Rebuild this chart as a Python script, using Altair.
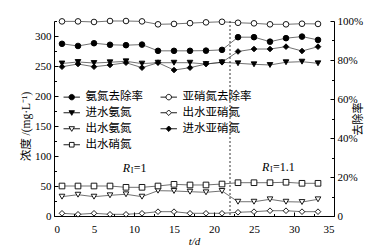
import altair as alt
import pandas as pd

days = [1, 3, 5, 7, 9, 11, 13, 15, 17, 19, 21, 23, 25, 27, 29, 31, 33]

# right axis (%)
nh4_removal = [88.3, 87.2, 88.6, 87.8, 87.6, 87.9, 84.7, 84.7, 84.7, 84.8, 85.2, 91.7, 91.7, 89.4, 91.2, 92.0, 90.3]
no2_removal = [99.8, 99.8, 99.5, 100.0, 100.0, 99.8, 98.3, 98.5, 98.9, 99.3, 99.6, 99.1, 98.8, 98.3, 98.3, 98.6, 98.5]
# left axis (mg/L)
nh4_in = [254.2, 256.7, 255.0, 256.2, 257.8, 254.0, 255.5, 255.5, 255.5, 253.3, 256.2, 254.5, 252.8, 251.7, 256.2, 257.2, 254.5]
nh4_out = [32.2, 35.5, 32.2, 34.5, 36.2, 32.2, 42.2, 41.7, 40.5, 39.5, 41.7, 23.8, 23.8, 27.8, 23.8, 23.3, 27.8]
no3_out = [50.0, 50.0, 50.0, 50.0, 47.8, 47.8, 50.0, 52.8, 51.7, 51.7, 53.3, 55.5, 55.5, 55.5, 56.2, 54.5, 54.5]
no2_out = [4.5, 2.8, 4.5, 2.8, 2.8, 4.5, 7.2, 7.2, 4.5, 4.5, 4.5, 6.2, 7.2, 8.8, 8.8, 7.2, 7.2]
no2_in = [248.8, 253.3, 248.8, 251.7, 255.5, 247.2, 255.5, 243.3, 247.2, 253.3, 256.2, 274.2, 278.3, 278.3, 282.2, 275.0, 282.2]

# legend order (column-major: first column, then second column)
series_names = ["氨氮去除率", "进水氨氮", "出水氨氮", "出水硝氮", "亚硝氮去除率", "出水亚硝氮", "进水亚硝氮"]
series_values = [nh4_removal, nh4_in, nh4_out, no3_out, no2_removal, no2_out, no2_in]
series_axis = ["right", "left", "left", "left", "right", "left", "left"]
marker_shapes = ["circle", "triangle-down", "triangle-down", "square", "circle", "diamond", "diamond"]
marker_fills = ["black", "black", "white", "white", "white", "white", "black"]
CIRC = "M-3,0H-1M1,0H3M-1,0A1,1,0,1,0,1,0A1,1,0,1,0,-1,0Z"
TRI = "M-3,0H-0.56M0.56,0H3M-1,-0.75L1,-0.75L0,0.95Z"
SQ = "M-3,0H-0.85M0.85,0H3M-0.85,-0.85H0.85V0.85H-0.85Z"
DIA = "M-3,0H-1M1,0H3M0,-1L1,0L0,1L-1,0Z"
legend_paths = [CIRC, TRI, TRI, SQ, CIRC, DIA, DIA]

phase_x = [22]
ann_x = [8.6, 26.0]
ann_y = [80, 81]
ann_rest = ["=1", "=1.1"]

rows = []
for name, vals, ax in zip(series_names, series_values, series_axis):
    for d, v in zip(days, vals):
        rows.append({"day": d, "value": v, "series": name, "axis": ax})
df = pd.DataFrame(rows)

FONT = "Liberation Serif, Noto Sans CJK SC"
CJK = "Noto Sans CJK SC"
W, H = 280, 195
LEFT_MAX = 325

x_scale = alt.Scale(domain=[0, 35], nice=False, zero=False)
left_scale = alt.Scale(domain=[0, LEFT_MAX], nice=False, zero=True)
right_scale = alt.Scale(domain=[0, 100], nice=False, zero=True)

common_axis = dict(domainColor="black", tickColor="black", labelColor="black",
                   titleColor="black", grid=False)

x_axis = alt.Axis(
    values=list(range(0, 36, 5)), ticks=False,
    title="t/d", titleFontStyle="italic", titleFont=FONT, titleFontSize=11,
    titleFontWeight="normal", titlePadding=1,
    labelFont=FONT, labelFontSize=11, labelPadding=7, **common_axis,
)
x_enc = alt.X("day:Q", scale=x_scale, axis=x_axis)
x_enc_noaxis = alt.X("day:Q", scale=x_scale, axis=None)

y_left_axis = alt.Axis(
    values=list(range(0, 301, 50)), ticks=False,
    title="浓度 /(mg·L⁻¹)", titleFont=FONT, titleFontSize=11.5, titleFontWeight="normal",
    titlePadding=3, titleY=105, labelFont=FONT, labelFontSize=11, labelPadding=3, **common_axis,
)
y_right_axis = alt.Axis(
    orient="right", values=list(range(0, 101, 20)), ticks=False,
    labelExpr="datum.value === 0 ? '0' : datum.value + '%'",
    title="去除率", titleFont=CJK, titleFontSize=11, titleFontWeight="normal",
    titlePadding=1, titleAngle=270, labelFont=FONT, labelFontSize=11, labelPadding=3,
    **common_axis,
)

shape_sc = alt.Scale(domain=series_names, range=marker_shapes)
fill_sc = alt.Scale(domain=series_names, range=marker_fills)

base = alt.Chart(df)

# ---- left-axis series
left_lines = base.transform_filter("datum.axis === 'left'").mark_line(
    color="#333333", strokeWidth=0.7
).encode(
    x=x_enc, y=alt.Y("value:Q", scale=left_scale, axis=y_left_axis), detail="series:N",
)
left_points = base.transform_filter("datum.axis === 'left'").mark_point(
    stroke="black", strokeWidth=0.9, opacity=1, size=32
).encode(
    x=x_enc, y=alt.Y("value:Q", scale=left_scale, axis=y_left_axis),
    shape=alt.Shape("series:N", scale=shape_sc, legend=None),
    fill=alt.Fill("series:N", scale=fill_sc, legend=None),
)

ann_df = pd.DataFrame({"day": ann_x, "value": ann_y, "rest": ann_rest})
ann_base = alt.Chart(ann_df).encode(
    x=x_enc, y=alt.Y("value:Q", scale=left_scale, axis=y_left_axis)
)
ann_R = ann_base.mark_text(text="R", font=FONT, fontSize=12, fontStyle="italic",
                           align="left", baseline="middle", color="black")
ann_I = ann_base.mark_text(text="I", font=FONT, fontSize=8, dx=8, dy=3,
                           align="left", baseline="middle", color="black")
ann_rest_t = ann_base.mark_text(font=FONT, fontSize=12, dx=11,
                                align="left", baseline="middle", color="black").encode(text="rest:N")

left_layer = alt.layer(left_lines, left_points, ann_R, ann_I, ann_rest_t)

# ---- right-axis series
right_lines = base.transform_filter("datum.axis === 'right'").mark_line(
    color="#333333", strokeWidth=0.7
).encode(
    x=x_enc_noaxis, y=alt.Y("value:Q", scale=right_scale, axis=y_right_axis), detail="series:N",
)
right_points = base.transform_filter("datum.axis === 'right'").mark_point(
    stroke="black", strokeWidth=0.9, opacity=1, size=32
).encode(
    x=x_enc_noaxis, y=alt.Y("value:Q", scale=right_scale, axis=y_right_axis),
    shape=alt.Shape("series:N", scale=shape_sc, legend=None),
    fill=alt.Fill("series:N", scale=fill_sc, legend=None),
)
right_layer = alt.layer(right_lines, right_points)

# ---- phase divider
rule = alt.Chart(pd.DataFrame({"day": phase_x})).mark_rule(
    color="black", strokeWidth=0.8, strokeDash=[2, 2]
).encode(x=x_enc_noaxis)

# ---- inward tick marks (axes placed on the opposite edge, pointing inside)
empty = base.transform_filter("false")
tick_common = dict(labels=False, domain=False, title=None, tickColor="black", grid=False)
ticks_left = empty.mark_point(opacity=0).encode(
    y=alt.Y("value:Q", scale=left_scale, axis=alt.Axis(
        orient="right", offset=-W, values=list(range(0, 326, 25)),
        tickSize={"condition": {"test": "datum.value % 50 === 0", "value": 4}, "value": 2.5},
        **tick_common)),
)
ticks_right = empty.mark_point(opacity=0).encode(
    y=alt.Y("value:Q", scale=right_scale, axis=alt.Axis(
        orient="left", offset=-W, values=list(range(0, 101, 10)),
        tickSize={"condition": {"test": "datum.value % 20 === 0", "value": 4}, "value": 2.5},
        **tick_common)),
)
ticks_x = empty.mark_point(opacity=0).encode(
    x=alt.X("day:Q", scale=x_scale, axis=alt.Axis(
        orient="top", offset=-H, values=[i * 2.5 for i in range(15)],
        tickSize={"condition": {"test": "datum.value % 5 === 0", "value": 4}, "value": 2.5},
        **tick_common)),
)

# ---- legend (symbols drawn as marker with line through it)
leg = alt.Legend(
    title=None, orient="none", legendX=12, legendY=70, columns=2,
    symbolSize=30, symbolStrokeWidth=0.9,
    labelFont=CJK, labelFontSize=11.5, labelColor="black", labelOffset=8,
    rowPadding=3, columnPadding=15, labelLimit=0, symbolOpacity=1,
)
legend_layer = empty.mark_point(stroke="black", strokeWidth=0.9, opacity=1).encode(
    shape=alt.Shape("series:N", scale=alt.Scale(domain=series_names, range=legend_paths), legend=leg),
    fill=alt.Fill("series:N", scale=alt.Scale(domain=series_names, range=marker_fills), legend=leg),
    stroke=alt.Stroke("series:N", scale=alt.Scale(domain=series_names, range=["black"] * 7), legend=leg),
)

chart = alt.layer(
    left_layer, right_layer, rule, ticks_left, ticks_right, ticks_x, legend_layer
).resolve_scale(
    x="independent", y="independent", shape="independent", fill="independent", stroke="independent"
).properties(
    width=W, height=H,
    autosize=alt.AutoSizeParams(type="none"),
    padding={"left": 46, "top": 13, "right": 41, "bottom": 33},
    background="white",
).configure_view(stroke=None)

chart.save("out.html", embed_options={"renderer": "svg", "actions": False})
